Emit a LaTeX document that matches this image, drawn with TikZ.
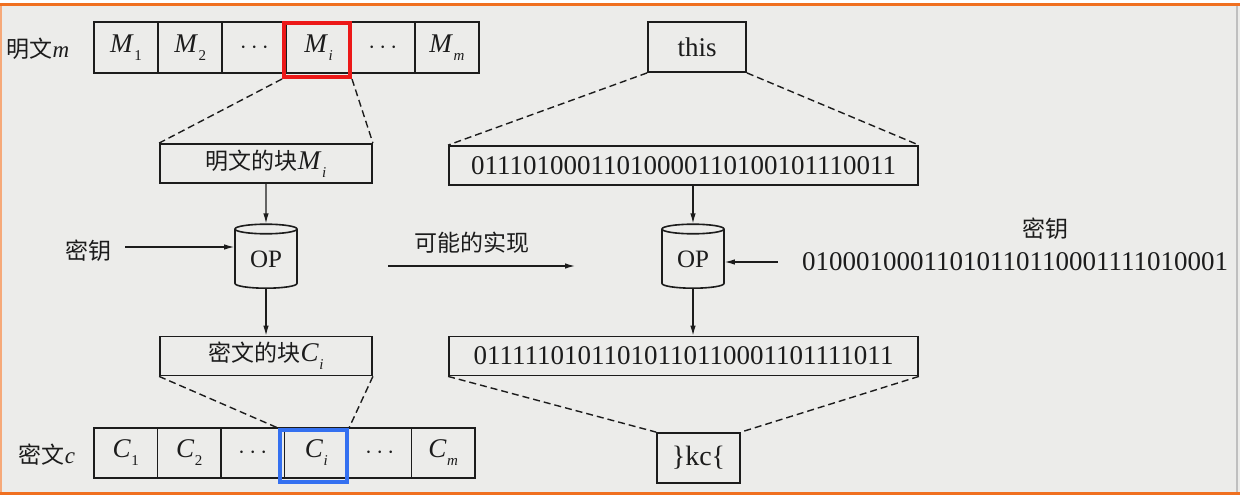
\documentclass[tikz,border=0pt]{standalone}
\usepackage{fontspec}
\setmainfont{Liberation Serif}
\newfontfamily\cjk{Noto Sans CJK SC}
\usetikzlibrary{arrows.meta,shapes.geometric}
\definecolor{pagebg}{RGB}{236,236,234}
\definecolor{frameorange}{RGB}{240,112,32}
\definecolor{hired}{RGB}{236,24,24}
\definecolor{hiblue}{RGB}{52,112,240}
\definecolor{ink}{RGB}{28,28,28}
\newcommand\msub[2]{\textit{#1}\kern0.5pt\raisebox{-0.3em}{\fontsize{15}{15}\selectfont #2}}
\newcommand\itl[1]{{\normalfont\itshape #1}}
\begin{document}
\begin{tikzpicture}[x=1pt,y=-1pt,
  box/.style={draw=ink,line width=1.8pt,inner sep=0pt,text=ink},
  cellm/.style={box,minimum width=64.2pt,minimum height=51pt,font=\fontsize{27}{28}\selectfont},
  cellc/.style={box,minimum width=63.5pt,minimum height=50pt,font=\fontsize{27}{28}\selectfont},
  blockbox/.style={box,minimum width=212pt,minimum height=39pt},
  bitbox/.style={box,minimum width=469pt,minimum height=39pt,font=\fontsize{27}{28}\selectfont},
  smallbox/.style={box,minimum width=98pt,minimum height=50pt,font=\fontsize{27}{28}\selectfont},
  opcyl/.style={cylinder,shape border rotate=90,aspect=0.3,draw=ink,line width=1.6pt,
     minimum width=62pt,minimum height=64pt,inner sep=0pt,text=ink,font=\fontsize{25}{26}\selectfont},
  hilite/.style={line width=4pt,inner sep=0pt},
  lbl/.style={text=ink,inner sep=0pt,font=\fontsize{23}{25}\selectfont\cjk},
  arr/.style={draw=ink,line width=1.2pt,-{Latex[length=10pt,width=5.5pt]}},
  dashline/.style={draw=ink,line width=1.4pt,dash pattern=on 7pt off 4pt}
]
\useasboundingbox (0,0) rectangle (1240,498);
\fill[white] (0,0) rectangle (1240,498);
\fill[pagebg] (0,5) rectangle (1240,493);
\draw[frameorange!60,line width=2pt] (1,5) -- (1,493);
\draw[black!25,line width=1.5pt] (1237,5) -- (1237,493);
\draw[frameorange,line width=3pt] (0,4.5) -- (1240,4.5);
\draw[frameorange,line width=3pt] (0,493.5) -- (1240,493.5);

% plaintext row
\node[lbl] (mlabel) at (38,49) {明文\itl{m}};
\node[cellm] (m1) at (126.1,47.5) {\msub{M}{1}};
\node[cellm] (m2) at (190.3,47.5) {\msub{M}{2}};
\node[cellm] (m3) at (254.4,47.5) {$\cdots$};
\node[cellm] (m4) at (318.6,47.5) {\msub{M}{\textit{i}}};
\node[cellm] (m5) at (382.8,47.5) {$\cdots$};
\node[cellm] (m6) at (446.9,47.5) {\msub{M}{\textit{m}}};
\node[hilite,draw=hired,minimum width=66pt,minimum height=54pt] (mred) at (317,50) {};

% ciphertext row
\node[lbl] (clabel) at (47,455) {密文\itl{c}};
\node[cellc] (c1) at (125.75,453) {\msub{C}{1}};
\node[cellc] (c2) at (189.25,453) {\msub{C}{2}};
\node[cellc] (c3) at (252.75,453) {$\cdots$};
\node[cellc] (c4) at (316.25,453) {\msub{C}{\textit{i}}};
\node[cellc] (c5) at (379.75,453) {$\cdots$};
\node[cellc] (c6) at (443.25,453) {\msub{C}{\textit{m}}};
\node[hilite,draw=hiblue,minimum width=67pt,minimum height=52pt] (cblue) at (313.5,456) {};

% left column
\node[blockbox] (mblock) at (266,163.5) {{\fontsize{23}{25}\selectfont\cjk 明文的块}{\fontsize{27}{28}\selectfont\msub{M}{\textit{i}}}};
\node[opcyl] (opl) at (266,259) {OP};
\node[blockbox] (cblock) at (266,356) {{\fontsize{23}{25}\selectfont\cjk 密文的块}{\fontsize{27}{28}\selectfont\msub{C}{\textit{i}}}};
\node[lbl] (keyl) at (88,251) {密钥};

\draw[dashline] (mred.south west) -- (mblock.north west);
\draw[dashline] (mred.south east) -- (mblock.north east);
\draw[dashline] (cblock.south west) -- (cblue.north west);
\draw[dashline] (cblock.south east) -- (cblue.north east);
\draw[arr] (mblock) -- (opl);
\draw[arr] (opl) -- (cblock);
\draw[arr] ([xshift=14pt,yshift=4pt]keyl.east) -- ([yshift=4pt]keyl.east -| opl.west);

% middle
\node[lbl] (impl) at (472,243) {可能的实现};
\coordinate (implA) at (388,266);
\coordinate (implB) at (575,266);
\draw[arr] (implA) -- (implB);

% right column
\node[smallbox] (this) at (697,47) {this};
\node[bitbox] (pbits) at (683.5,165.5) {01110100011010000110100101110011};
\node[opcyl] (opr) at (693,259) {OP};
\node[bitbox] (cbits) at (683.5,356) {01111101011010110110001101111011};
\node[box,minimum width=83pt,minimum height=50pt,font=\fontsize{28}{28}\selectfont] (kc) at (698.5,458) {\}kc\{};
\node[lbl] (keyr) at (1045,229) {密钥};
\node[text=ink,inner sep=0pt,font=\fontsize{27}{28}\selectfont] (kbits) at (1015,262) {01000100011010110110001111010001};

\draw[dashline] (this.south west) -- (pbits.north west);
\draw[dashline] (this.south east) -- (pbits.north east);
\draw[dashline] (cbits.south west) -- (kc.north west);
\draw[dashline] (cbits.south east) -- (kc.north east);
\draw[arr] (pbits.south -| opr.north) -- (opr.north);
\draw[arr] (opr.south) -- (opr.south |- cbits.north);
\draw[arr] ([xshift=-24pt]kbits.west) -- (kbits.west -| opr.east);
\end{tikzpicture}
\end{document}
